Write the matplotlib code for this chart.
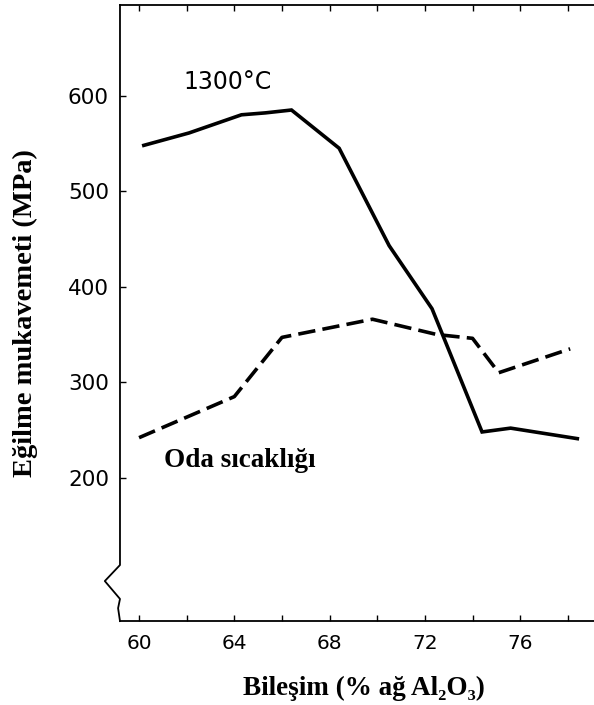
import matplotlib.pyplot as plt
import numpy as np

# 1300°C curve
x_hot = [60.2, 62.1, 64.3, 65.3, 66.4, 68.4, 70.5, 72.3, 74.4, 75.6, 78.4]
y_hot = [548, 561, 580, 582, 585, 545, 443, 377, 248, 252, 241]

# room temperature (Oda sıcaklığı) curve
x_room = [60.0, 64.0, 66.0, 67.0, 69.8, 72.5, 74.0, 75.1, 78.1]
y_room = [242, 285, 347, 352, 366, 350, 346, 310, 335]

x_ticks = [60, 62, 64, 66, 68, 70, 72, 74, 76, 78]
x_labels = ['60', '', '64', '', '68', '', '72', '', '76', '']
y_ticks = [200, 300, 400, 500, 600]

serif = ['Liberation Serif', 'DejaVu Serif']

fig = plt.figure(figsize=(5.94, 7.05), dpi=100)
ax = fig.add_axes([0.202, 0.119, 0.798, 0.874])

ax.plot(x_hot, y_hot, color='black', lw=2.6, solid_joinstyle='miter')
ax.plot(x_room, y_room, color='black', lw=2.6, dashes=(4.8, 2.0))

ax.set_xlim(59.2, 79.1)
ax.set_ylim(50, 695)

ax.set_xticks(x_ticks)
ax.set_xticklabels(x_labels)
ax.set_yticks(y_ticks)
ax.tick_params(direction='in', length=4, width=1, labelsize=15.5,
               top=True, right=False)
ax.tick_params(axis='y', pad=8)
ax.tick_params(axis='x', pad=9, labelsize=14.5)

ax.spines['right'].set_visible(False)
ax.spines['left'].set_visible(False)
for s in ['top', 'bottom']:
    ax.spines[s].set_linewidth(1.3)

# left spine with axis-break zigzag
bx = [0, 0, -0.032, 0.0, -0.004, 0]
by = [1.0, 0.091, 0.065, 0.036, 0.021, 0.0]
ax.plot(bx, by, color='black', lw=1.3, transform=ax.transAxes, clip_on=False)

fig.text(183 / 594, 1 - 82 / 705, '1300°C', fontsize=17, va='center', ha='left')
ax.text(61.05, 218, 'Oda sıcaklığı', family=serif, fontweight='bold',
        fontsize=19.5, va='center', ha='left')

fig.text(25 / 594, 1 - 313 / 705, 'Eğilme mukavemeti (MPa)', family=serif,
         fontweight='bold', fontsize=20.5, rotation=90, va='center', ha='center')
fig.text(364 / 594, 1 - 688 / 705, 'Bileşim (% ağ Al₂O₃)', family=serif,
         fontweight='bold', fontsize=19.5, va='center', ha='center')

fig.savefig('out.png', dpi=100)
